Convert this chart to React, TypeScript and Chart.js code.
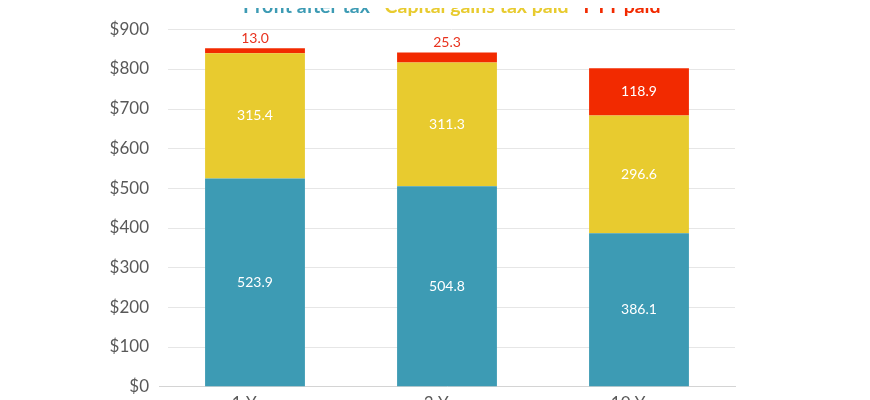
import React, { useEffect, useRef } from "react";
import { Chart, registerables } from "chart.js";

Chart.register(...registerables);

const categories = ["1 Year", "3 Year", "10 Year"];
const profitAfterTax = [523.9, 504.8, 386.1];
const capitalGainsTax = [315.4, 311.3, 296.6];
const pttPaid = [13.0, 25.3, 118.9];
const seriesLabels = ["Profit after tax", "Capital gains tax paid", "PTT paid"];
const seriesColors = ["#3d9bb4", "#e8cb2f", "#f22a00"];
const yTickValues = [0, 100, 200, 300, 400, 500, 600, 700, 800, 900];

const FONT = "Lato, 'Noto Sans', sans-serif";

const gridPlugin = {
  id: "insetGrid",
  beforeDatasetsDraw(chart: any) {
    const { ctx, chartArea, scales } = chart;
    const y = scales.y;
    ctx.save();
    ctx.strokeStyle = "#e6e6e6";
    ctx.lineWidth = 1;
    yTickValues.forEach((v) => {
      if (v === 0) return;
      const py = Math.round(y.getPixelForValue(v)) + 0.5;
      ctx.beginPath();
      ctx.moveTo(chartArea.left + 9, py);
      ctx.lineTo(chartArea.right, py);
      ctx.stroke();
    });
    ctx.restore();
  },
};

const labelPlugin = {
  id: "barLabels",
  afterDatasetsDraw(chart: any) {
    const { ctx } = chart;
    ctx.save();
    ctx.font = `14px ${FONT}`;
    ctx.textAlign = "center";
    chart.data.datasets.forEach((ds: any, di: number) => {
      const meta = chart.getDatasetMeta(di);
      meta.data.forEach((el: any, i: number) => {
        const v = ds.data[i];
        const txt = v.toFixed(1);
        const h = Math.abs(el.base - el.y);
        if (h < 30) {
          ctx.fillStyle = "#e8321e";
          ctx.textBaseline = "alphabetic";
          ctx.fillText(txt, el.x, el.y - 5);
        } else {
          ctx.fillStyle = "#ffffff";
          ctx.textBaseline = "middle";
          ctx.fillText(txt, el.x, (el.y + el.base) / 2);
        }
      });
    });
    ctx.restore();
  },
};

export default function App() {
  const ref = useRef<HTMLCanvasElement>(null);
  useEffect(() => {
    if (!ref.current) return;
    const chart = new Chart(ref.current, {
      type: "bar",
      data: {
        labels: categories,
        datasets: [
          { label: seriesLabels[0], data: profitAfterTax, backgroundColor: seriesColors[0] },
          { label: seriesLabels[1], data: capitalGainsTax, backgroundColor: seriesColors[1] },
          { label: seriesLabels[2], data: pttPaid, backgroundColor: seriesColors[2] },
        ],
      },
      options: {
        animation: false,
        responsive: true,
        maintainAspectRatio: false,
        datasets: { bar: { barPercentage: 1, categoryPercentage: 0.52 } },
        layout: { padding: { left: 0, right: 127, top: 0, bottom: 0 } },
        plugins: {
          tooltip: { enabled: false },
          title: {
            display: true,
            text: " ",
            position: "top",
            weight: 500,
            fullSize: false,
            font: { size: 1 },
            padding: { top: 0, bottom: 1.5 },
          },
          legend: {
            position: "top",
            fullSize: false,
            labels: {
              boxWidth: 0,
              boxHeight: 0,
              padding: 5,
              font: { family: FONT, size: 19.5, weight: "bold" },
              generateLabels: (chart: any) =>
                chart.data.datasets.map((ds: any, i: number) => ({
                  text: ds.label,
                  fillStyle: "rgba(0,0,0,0)",
                  strokeStyle: "rgba(0,0,0,0)",
                  lineWidth: 0,
                  fontColor: seriesColors[i],
                  hidden: false,
                  datasetIndex: i,
                })),
            },
          },
        },
        scales: {
          x: {
            stacked: true,
            grid: { display: false, drawTicks: false },
            border: { display: true, color: "#d4d4d4", width: 1 },
            ticks: { color: "#595959", font: { family: FONT, size: 17 }, padding: 7 },
          },
          y: {
            stacked: true,
            min: 0,
            max: 900,
            afterFit: (scale: any) => {
              scale.width = 151;
            },
            afterBuildTicks: (scale: any) => {
              scale.ticks = yTickValues.map((v) => ({ value: v }));
            },
            grid: { display: false, drawTicks: false },
            border: { display: false },
            ticks: {
              color: "#595959",
              font: { family: FONT, size: 17 },
              padding: 10,
              callback: (v: any) => "$" + v,
            },
          },
        },
      },
      plugins: [gridPlugin, labelPlugin],
    });
    return () => chart.destroy();
  }, []);
  return (
    <div style={{ position: "relative", width: 854, height: 429, marginTop: -16 }}>
      <canvas ref={ref} />
    </div>
  );
}
